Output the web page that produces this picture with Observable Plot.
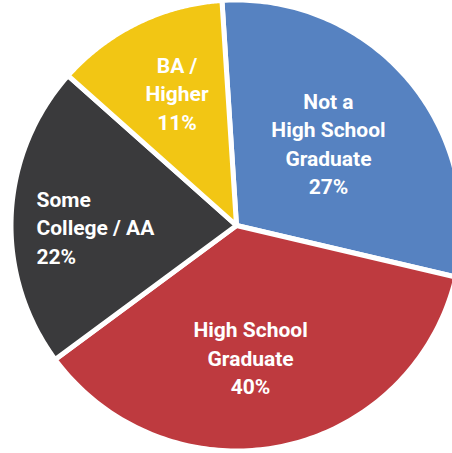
<!DOCTYPE html>
<html><head><meta charset="utf-8">
<script src="https://cdn.jsdelivr.net/npm/d3@7"></script>
<script src="https://cdn.jsdelivr.net/npm/@observablehq/plot@0.6"></script>
<style>html,body{margin:0;padding:0;background:#fff;overflow:hidden}</style>
</head><body><div id="chart"></div>
<script>
// Data
const categories = ["Not a High School Graduate", "High School Graduate", "Some College / AA", "BA / Higher"];
const shares = [29.7, 36.2, 21.7, 12.4];            // slice sizes as drawn in the picture
const labelTexts = ["Not a\nHigh School\nGraduate", "High School\nGraduate", "Some\nCollege / AA", "BA /\nHigher"];
const labelPcts = ["27%", "40%", "22%", "11%"];
const colors = ["#5682C1", "#BE3A3F", "#3A3A3C", "#F2C614"];

// Geometry (layout)
const W = 452, H = 453;
const cx = 236, cy = 225, R = 225.5;
const startDeg = -3.7;
const place = [{dA: -1.9, rf: 0.55}, {dA: 5.5, rf: 0.585}, {dA: -2.8, rf: 0.887}, {dA: 2.0, rf: 0.648}];

const total = d3.sum(shares);
let acc = startDeg;
const slices = shares.map((s, i) => {
  const a0 = acc, a1 = acc + s / total * 360;
  acc = a1;
  return {cat: categories[i], a0, a1, i};
});

const rad = d => d * Math.PI / 180;
const pts = [];
for (const s of slices) {
  pts.push({cat: s.cat, x: 0, y: 0});
  const n = 120;
  for (let k = 0; k <= n; k++) {
    const a = rad(s.a0 + (s.a1 - s.a0) * k / n);
    pts.push({cat: s.cat, x: Math.sin(a), y: Math.cos(a)});
  }
  pts.push({cat: s.cat, x: 0, y: 0});
}

const labels = slices.map(s => {
  const p = place[s.i];
  const a = rad((s.a0 + s.a1) / 2 + p.dA);
  return {cat: s.cat, x: p.rf * Math.sin(a), y: p.rf * Math.cos(a), text: labelTexts[s.i] + "\n" + labelPcts[s.i], start: s.i === 2};
});

const font = {fill: "white", fontSize: 21, fontWeight: 700, fontFamily: "Roboto", lineHeight: 1.36};

const chart = Plot.plot({
  width: W, height: H,
  margin: 0,
  x: {domain: [-cx / R, (W - cx) / R], axis: null},
  y: {domain: [-(H - cy) / R, cy / R], axis: null},
  color: {domain: categories, range: colors},
  style: {background: "white"},
  marks: [
    Plot.line(pts, {x: "x", y: "y", z: "cat", fill: "cat", stroke: "white", strokeWidth: 5, strokeLinejoin: "round"}),
    Plot.text(labels.filter(d => !d.start), {x: "x", y: "y", text: "text", textAnchor: "middle", ...font}),
    Plot.text(labels.filter(d => d.start), {x: "x", y: "y", text: "text", textAnchor: "start", ...font})
  ]
});
document.getElementById("chart").appendChild(chart);
</script>
</body></html>
